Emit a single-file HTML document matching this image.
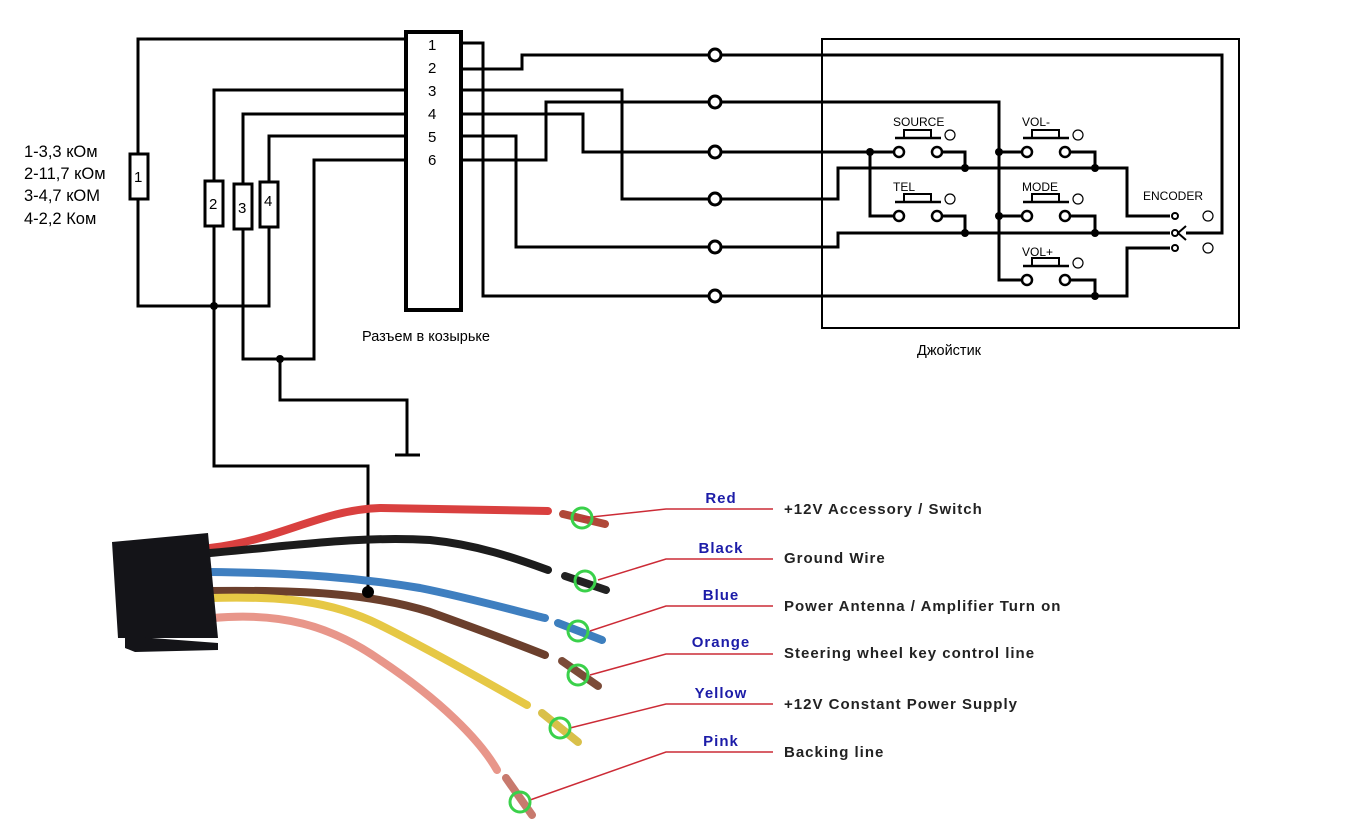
<!DOCTYPE html>
<html><head><meta charset="utf-8"><style>
html,body{margin:0;padding:0;background:#fff;width:1347px;height:825px;overflow:hidden}
svg{display:block}
</style></head><body>
<svg width="1347" height="825" viewBox="0 0 1347 825" xmlns="http://www.w3.org/2000/svg">
<g fill="none" stroke="#000" stroke-width="3">
<rect x="406" y="32" width="55" height="278" stroke-width="4"/>
<polyline points="405,39 138,39 138,306 269,306 269,136 405,136"/>
<polyline points="405,90 214,90 214,466 368,466 368,592"/>
<polyline points="405,114 243,114 243,359 314,359 314,160 405,160"/>
<polyline points="280,359 280,400 407,400 407,455"/>
<line x1="395" y1="455" x2="420" y2="455"/>
<polyline points="461,43 483,43 483,296 709,296"/>
<polyline points="461,69 522,69 522,55 709,55"/>
<polyline points="461,90 622,90 622,199 709,199"/>
<polyline points="461,114 583,114 583,152 709,152"/>
<polyline points="461,136 516,136 516,247 709,247"/>
<polyline points="461,160 546,160 546,102 709,102"/>
<rect x="822" y="39" width="417" height="289" stroke-width="2"/>
<polyline points="721,55 1222,55 1222,233 1186,233"/>
<polyline points="721,102 999,102 999,280 1021,280"/>
<polyline points="721,152 894,152"/>
<polyline points="870,152 870,216 894,216"/>
<polyline points="721,199 838,199 838,168 1127,168 1127,216 1170,216"/>
<polyline points="721,247 838,247 838,233 1170,233"/>
<polyline points="721,296 1127,296 1127,248 1170,248"/>
<polyline points="999,152 1021,152"/><polyline points="999,216 1021,216"/>
<polyline points="941,152 965,152 965,168"/><polyline points="941,216 965,216 965,233"/>
<polyline points="1070,152 1095,152 1095,168"/><polyline points="1070,216 1095,216 1095,233"/>
<polyline points="1070,280 1095,280 1095,296"/>
<polyline points="1186,226 1178,233 1186,240" stroke-width="2"/>
</g>
<g fill="#fff" stroke="#000" stroke-width="3">
<rect x="130" y="154" width="18" height="45"/>
<rect x="205" y="181" width="18" height="45"/>
<rect x="234" y="184" width="18" height="45"/>
<rect x="260" y="182" width="18" height="45"/>
<circle cx="715" cy="55" r="6"/><circle cx="715" cy="102" r="6"/><circle cx="715" cy="152" r="6"/>
<circle cx="715" cy="199" r="6"/><circle cx="715" cy="247" r="6"/><circle cx="715" cy="296" r="6"/>
</g>
<g stroke="#000" stroke-width="2.5" fill="#fff">
<g id="b"><line x1="895" y1="138" x2="941" y2="138" stroke-width="2.5"/><polyline points="904,138 904,130 931,130 931,138" fill="none" stroke-width="2"/><circle cx="899" cy="152" r="5"/><circle cx="937" cy="152" r="5"/><circle cx="950" cy="135" r="5" stroke-width="1.2"/></g>
<use href="#b" x="0" y="64"/><use href="#b" x="128" y="0"/><use href="#b" x="128" y="64"/><use href="#b" x="128" y="128"/>
<circle cx="1175" cy="216" r="3" stroke-width="2"/><circle cx="1175" cy="233" r="3" stroke-width="2"/><circle cx="1175" cy="248" r="3" stroke-width="2"/>
<circle cx="1208" cy="216" r="5" stroke-width="1.2"/><circle cx="1208" cy="248" r="5" stroke-width="1.2"/>
</g>
<g fill="#000">
<circle cx="214" cy="306" r="4"/><circle cx="280" cy="359" r="4"/>
<circle cx="870" cy="152" r="4"/><circle cx="999" cy="152" r="4"/><circle cx="999" cy="216" r="4"/>
<circle cx="965" cy="168" r="4"/><circle cx="965" cy="233" r="4"/><circle cx="1095" cy="168" r="4"/><circle cx="1095" cy="233" r="4"/><circle cx="1095" cy="296" r="4"/>
</g>
<g font-family="Liberation Sans, sans-serif" font-size="12" fill="#000">
<text x="893" y="126">SOURCE</text><text x="893" y="191">TEL</text>
<text x="1022" y="126">VOL-</text><text x="1022" y="191">MODE</text><text x="1022" y="256">VOL+</text>
<text x="1143" y="200">ENCODER</text>
</g>
<g font-family="Liberation Sans, DejaVu Sans, sans-serif" font-size="15" fill="#000">
<text x="428" y="50">1</text><text x="428" y="73">2</text><text x="428" y="96">3</text><text x="428" y="119">4</text><text x="428" y="142">5</text><text x="428" y="165">6</text>
<text x="134" y="182">1</text><text x="209" y="209">2</text><text x="238" y="213">3</text><text x="264" y="206">4</text>
<g font-size="16.5"><text x="24" y="157">1-3,3 кОм</text><text x="24" y="179">2-11,7 кОм</text><text x="24" y="201">3-4,7 кОМ</text><text x="24" y="224">4-2,2 Ком</text></g>
<text x="362" y="341" font-size="14.5">Разъем в козырьке</text>
<text x="917" y="355" font-size="14.5">Джойстик</text>
</g>
<g fill="none" stroke-linecap="round" stroke-width="8">
<path d="M210,548 C280,540 320,510 380,508 L548,511" stroke="#d9403f"/>
<path d="M563,514 L605,524" stroke="#b04838"/>
<path d="M210,553 C300,545 360,536 430,540 C480,545 520,560 548,570" stroke="#1c1c1c"/>
<path d="M565,576 L606,590" stroke="#222"/>
<path d="M210,572 C300,573 360,578 420,588 C470,598 520,612 545,618" stroke="#3f7fc0"/>
<path d="M558,623 L602,640" stroke="#3d7fbe"/>
<path d="M210,591 C300,590 370,593 430,612 C480,630 520,645 545,655" stroke="#6b3f2c"/>
<path d="M562,661 L598,686" stroke="#7b4b38"/>
<path d="M210,598 C280,596 330,600 380,625 C440,655 500,690 527,705" stroke="#e6c845"/>
<path d="M542,713 L578,742" stroke="#d9c04a"/>
<path d="M213,618 C280,612 330,625 380,660 C440,700 480,740 497,770" stroke="#e8968a"/>
<path d="M506,778 L532,815" stroke="#c87a6e"/>
</g>
<path d="M112,542 L208,533 L218,638 L118,638 Z" fill="#141418"/>
<path d="M125,636 L218,643 L218,650 L135,652 L125,648 Z" fill="#141418"/>
<g stroke="#cc2b36" stroke-width="1.5" fill="none">
<polyline points="582,518 666,509 773,509"/><polyline points="598,580 666,559 773,559"/>
<polyline points="590,631 666,606 773,606"/><polyline points="590,675 666,654 773,654"/>
<polyline points="570,728 666,704 773,704"/><polyline points="530,800 666,752 773,752"/>
</g>
<g stroke="#3ad14a" stroke-width="3" fill="none">
<circle cx="582" cy="518" r="10"/><circle cx="585" cy="581" r="10"/><circle cx="578" cy="631" r="10"/>
<circle cx="578" cy="675" r="10"/><circle cx="560" cy="728" r="10"/><circle cx="520" cy="802" r="10"/>
</g>
<g font-family="Liberation Sans, sans-serif" font-size="15" font-weight="bold" letter-spacing="1">
<g fill="#1c1ca8" text-anchor="middle">
<text x="721" y="503">Red</text><text x="721" y="553">Black</text><text x="721" y="600">Blue</text>
<text x="721" y="647">Orange</text><text x="721" y="698">Yellow</text><text x="721" y="746">Pink</text>
</g>
<g fill="#222">
<text x="784" y="514">+12V  Accessory / Switch</text><text x="784" y="563">Ground Wire</text>
<text x="784" y="611">Power Antenna / Amplifier Turn on</text><text x="784" y="658">Steering wheel key control line</text>
<text x="784" y="709">+12V Constant Power Supply</text><text x="784" y="757">Backing line</text>
</g>
</g>
<circle cx="368" cy="592" r="6" fill="#000"/>
</svg>
</body></html>
